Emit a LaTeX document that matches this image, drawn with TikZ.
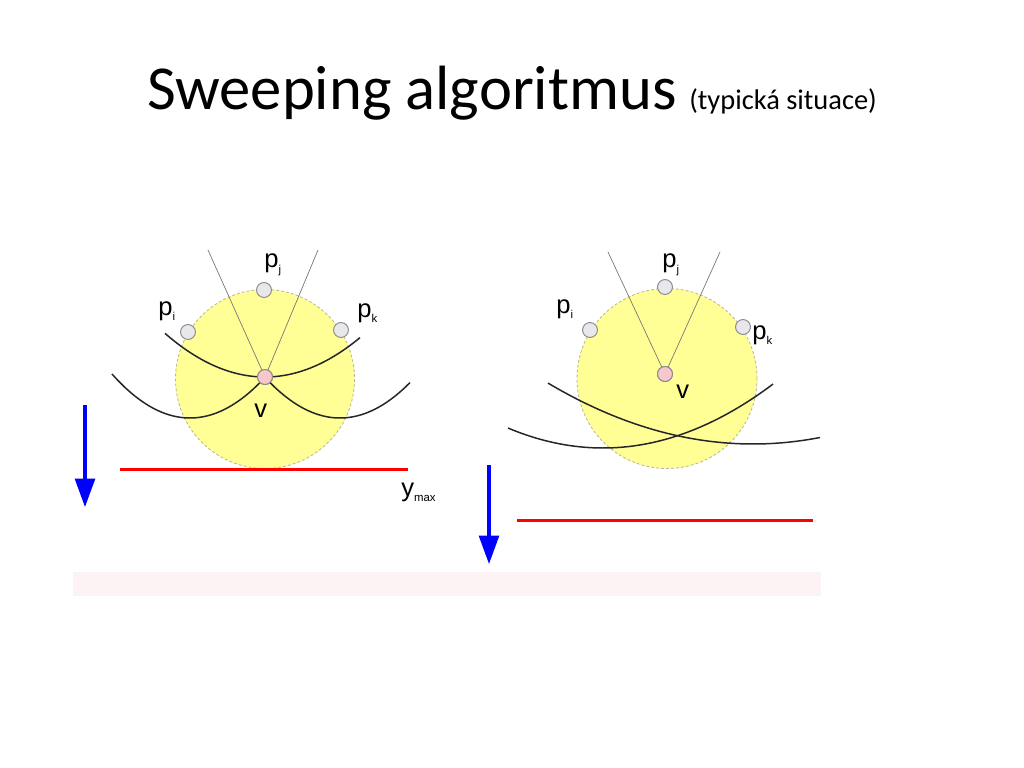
\documentclass[tikz,border=0pt]{standalone}
\usepackage{fontspec}
\setmainfont{Carlito}
\newfontfamily\labfont{Liberation Sans}
\usetikzlibrary{arrows.meta}
\definecolor{circyellow}{RGB}{255,255,150}
\definecolor{circedge}{RGB}{185,185,150}
\definecolor{ptgray}{RGB}{232,232,236}
\definecolor{ptedge}{RGB}{140,140,140}
\definecolor{vpink}{RGB}{246,200,205}
\definecolor{bandpink}{RGB}{253,242,244}
\definecolor{linegray}{RGB}{120,120,120}
\tikzset{
  site/.style={circle,draw=ptedge,fill=ptgray,line width=0.7pt,inner sep=0pt,minimum size=10.5pt},
  vertex/.style={circle,draw=ptedge,fill=vpink,line width=0.7pt,inner sep=0pt,minimum size=10.5pt},
  emptycirc/.style={fill=circyellow,draw=circedge,dashed,dash pattern=on 2pt off 1.5pt,line width=0.6pt},
  bisector/.style={draw=linegray,line width=0.5pt},
  beach/.style={draw=black!85,line width=1.05pt},
  sweepline/.style={draw=red,line width=1.8pt},
  sweeparrow/.style={draw=blue,line width=2.2pt,-{Triangle[width=14pt,length=20pt]}},
  lab/.style={font=\labfont\fontsize{18}{18}\selectfont,inner sep=0pt,anchor=base west},
  titlefont/.style={font=\fontsize{44}{44}\selectfont,inner sep=0pt,anchor=base west},
  subfont/.style={font=\fontsize{20}{20}\selectfont,inner sep=0pt,anchor=base west}
}
\newcommand{\sbs}[1]{\raisebox{-4pt}{\fontsize{8}{8}\selectfont #1}}
\begin{document}
\begin{tikzpicture}[x=0.703125pt,y=-0.703125pt]
\useasboundingbox (0,0) rectangle (1024,768);
% title
\node[titlefont] (title) at (147,110) {Sweeping algoritmus};
\node[subfont] (subtitle) at (689,110) {(typická situace)};
% band
\fill[bandpink] (73,572) rectangle (821,596);
% ---------- left figure ----------
\path[emptycirc] (265,379) circle (89.5);
\coordinate (lt1) at (208,250);
\coordinate (lt2) at (318,250);
\node[vertex] (lv) at (265,377) {};
\draw[bisector] (lt1) -- (lv.center);
\draw[bisector] (lt2) -- (lv.center);
\draw[beach] plot[domain=165:360,samples=60] (\x,{377-0.00437*(\x-265)*(\x-265)});
\draw[beach] plot[domain=112:265,samples=60] (\x,{418-0.00723*(\x-190)*(\x-190)});
\draw[beach] plot[domain=265:410,samples=60] (\x,{418-0.00723*(\x-340)*(\x-340)});
\node[vertex] at (lv) {};
\node[site] (lpi) at (188,332) {};
\node[site] (lpj) at (264,290) {};
\node[site] (lpk) at (341,330) {};
\node[lab] (lpil) at (158,315) {p\sbs{i}};
\node[lab] (lpjl) at (264,268) {p\sbs{j}};
\node[lab] (lpkl) at (357,317) {p\sbs{k}};
\node[lab] (lvl) at (254,417) {v};
\draw[sweepline] (120,469.5) -- (408,469.5);
\node[lab] (ymax) at (401,496) {y\sbs{max}};
\coordinate (la1) at (85,405);
\coordinate (la2) at (85,507);
\draw[sweeparrow] (la1) -- (la2);
% ---------- right figure ----------
\path[emptycirc] (667,378.5) circle (90);
\coordinate (rt1) at (608,252);
\coordinate (rt2) at (720,252);
\node[vertex] (rv) at (665,374) {};
\draw[bisector] (rt1) -- (rv.center);
\draw[bisector] (rt2) -- (rv.center);
\node[vertex] at (rv) {};
\draw[beach] plot[domain=548:820,samples=60] (\x,{444-0.00145*(\x-753)*(\x-753)});
\draw[beach] plot[domain=508:773,samples=60] (\x,{448-0.00222*(\x-603)*(\x-603)});
\node[site] (rpi) at (590,330) {};
\node[site] (rpj) at (665,287) {};
\node[site] (rpk) at (743,327) {};
\node[lab] (rpil) at (556,313) {p\sbs{i}};
\node[lab] (rpjl) at (662,268) {p\sbs{j}};
\node[lab] (rpkl) at (752,339) {p\sbs{k}};
\node[lab] (rvl) at (676,398) {v};
\draw[sweepline] (517,520.5) -- (813,520.5);
\coordinate (ra1) at (489,465);
\coordinate (ra2) at (489,564);
\draw[sweeparrow] (ra1) -- (ra2);
\end{tikzpicture}
\end{document}
